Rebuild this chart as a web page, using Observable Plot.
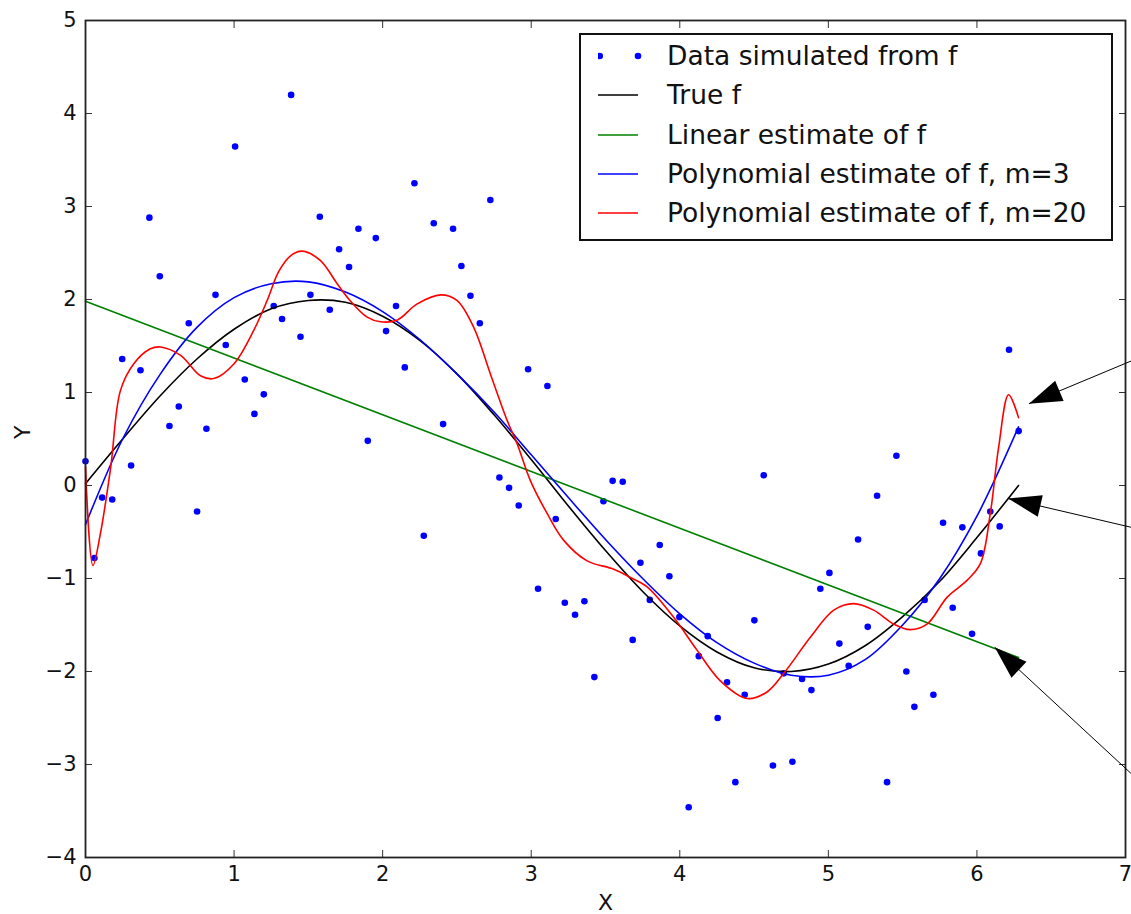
<!DOCTYPE html>
<html><head><meta charset="utf-8">
<script src="https://cdn.jsdelivr.net/npm/d3@7"></script>
<script src="https://cdn.jsdelivr.net/npm/@observablehq/plot@0.6"></script>
<style>
body{margin:0;background:#fff;font-family:"DejaVu Sans",sans-serif;}
#wrap{position:relative;width:1131px;height:914px;overflow:hidden;}
#legend{position:absolute;left:579px;top:33px;width:530px;height:204px;border:2px solid #111;background:#fff;box-sizing:content-box;}
#legend .row{position:absolute;left:0;height:40px;display:flex;align-items:center;}
#legend .row svg{position:absolute;left:17px;top:0;}
#legend .row span{position:absolute;left:86px;font-size:26.5px;line-height:40px;white-space:nowrap;color:#111;top:0;}
</style></head><body><div id="wrap"></div>
<script>
// ---- data ----
const dataX = [0,0.06,0.112,0.18,0.247,0.307,0.37,0.43,0.50,0.565,0.628,0.695,0.751,0.814,0.875,0.944,1.007,1.072,1.137,1.20,1.267,1.323,1.384,1.447,1.514,1.577,1.644,1.707,1.774,1.837,1.90,1.954,2.023,2.09,2.149,2.214,2.277,2.344,2.407,2.474,2.53,2.591,2.654,2.725,2.786,2.851,2.916,2.979,3.046,3.109,3.165,3.226,3.295,3.358,3.425,3.486,3.548,3.616,3.683,3.735,3.798,3.865,3.93,3.997,4.06,4.128,4.188,4.255,4.318,4.374,4.437,4.502,4.565,4.627,4.70,4.758,4.823,4.886,4.946,5.007,5.074,5.137,5.20,5.265,5.328,5.395,5.458,5.525,5.579,5.648,5.707,5.772,5.837,5.902,5.967,6.027,6.09,6.153,6.216,6.281];
const dataY = [0.26,-0.78,-0.13,-0.15,1.36,0.215,1.24,2.88,2.25,0.64,0.85,1.745,-0.28,0.61,2.05,1.51,3.645,1.14,0.77,0.98,1.93,1.79,4.20,1.60,2.05,2.89,1.89,2.54,2.35,2.76,0.48,2.66,1.66,1.93,1.27,3.25,-0.54,2.82,0.66,2.76,2.36,2.04,1.745,3.07,0.086,-0.025,-0.215,1.25,-1.11,1.07,-0.36,-1.26,-1.39,-1.244,-2.06,-0.17,0.05,0.04,-1.66,-0.83,-1.23,-0.64,-0.975,-1.415,-3.46,-1.835,-1.62,-2.50,-2.115,-3.19,-2.25,-1.45,0.11,-3.01,-2.02,-2.97,-2.08,-2.20,-1.11,-0.94,-1.70,-1.94,-0.58,-1.52,-0.11,-3.19,0.32,-2.00,-2.38,-1.23,-2.25,-0.40,-1.315,-0.45,-1.595,-0.73,-0.28,-0.44,1.46,0.585];

const curveX = [0,0.25,0.5,0.75,1.0,1.25,1.5,1.75,2.0,2.25,2.5,2.75,3.0,3.25,3.5,3.75,4.0,4.25,4.5,4.75,5.0,5.25,5.5,5.75,6.0,6.28];
const trueY  = [0.02,0.5,0.96,1.36,1.68,1.9,1.99,1.97,1.82,1.56,1.2,0.76,0.28,-0.22,-0.7,-1.14,-1.51,-1.79,-1.96,-2.0,-1.92,-1.72,-1.41,-1.03,-0.56,0.0];
const poly3Y = [-0.42,0.5,1.19,1.7,2.02,2.17,2.19,2.08,1.87,1.57,1.2,0.79,0.33,-0.13,-0.58,-1.0,-1.38,-1.69,-1.91,-2.04,-2.04,-1.87,-1.5,-1.0,-0.33,0.63];

const linearX = [0,6.28];
const linearY = [1.98,-1.85];

const poly20X = [0,0.05,0.1,0.17,0.235,0.325,0.437,0.505,0.64,0.774,0.863,1.0,1.133,1.223,1.3,1.38,1.458,1.58,1.694,1.78,1.896,1.985,2.1,2.23,2.39,2.5,2.613,2.725,2.838,2.905,2.995,3.107,3.219,3.376,3.556,3.668,3.78,3.96,4.116,4.273,4.453,4.587,4.7,4.88,5.036,5.17,5.305,5.44,5.55,5.664,5.8,5.933,6.023,6.09,6.146,6.213,6.28];
const poly20Y = [0.2,-0.86,-0.52,0.2,1.02,1.31,1.47,1.49,1.40,1.18,1.15,1.31,1.67,1.99,2.3,2.47,2.52,2.42,2.17,1.99,1.81,1.76,1.78,1.95,2.05,1.99,1.70,1.2,0.70,0.45,0.05,-0.3,-0.59,-0.81,-0.9,-0.99,-1.09,-1.42,-1.77,-2.1,-2.29,-2.22,-2.02,-1.63,-1.34,-1.27,-1.34,-1.49,-1.55,-1.49,-1.2,-1.02,-0.84,-0.30,0.41,0.975,0.73];

const arrowTipX  = [6.35, 6.21, 6.12];
const arrowTipY  = [0.88, -0.14, -1.74];
const arrowTailX = [7.04, 7.04, 7.04];
const arrowTailY = [1.34, -0.45, -3.1];

const xTicks = [0,1,2,3,4,5,6,7];
const yTicks = [-4,-3,-2,-1,0,1,2,3,4,5];

const legendLabels = ["Data simulated from f","True f","Linear estimate of f","Polynomial estimate of f, m=3","Polynomial estimate of f, m=20"];
const legendColors = ["#0000ff","#000000","#008000","#0000ff","#ff0000"];
const legendKinds  = ["dots","line","line","line","line"];

// ---- tables ----
const points = dataX.map((x,i)=>({x, y:dataY[i]}));
const trueRows = curveX.map((x,i)=>({x, y:trueY[i]}));
const poly3Rows = curveX.map((x,i)=>({x, y:poly3Y[i]}));
const linRows = linearX.map((x,i)=>({x, y:linearY[i]}));
const poly20Rows = poly20X.map((x,i)=>({x, y:poly20Y[i]}));
const arrowRows = arrowTipX.map((x,i)=>({x1:arrowTailX[i], y1:arrowTailY[i], x2:x, y2:arrowTipY[i]}));

const intFmt = d => (d < 0 ? "\u2212" + (-d) : String(d));

function triangleMarker(color, context) {
  const doc = (context && context.document) || document;
  const ns = "http://www.w3.org/2000/svg";
  const m = doc.createElementNS(ns, "marker");
  m.setAttribute("viewBox", "-36 -14 38 28");
  m.setAttribute("markerWidth", "38");
  m.setAttribute("markerHeight", "28");
  m.setAttribute("markerUnits", "userSpaceOnUse");
  m.setAttribute("orient", "auto");
  m.setAttribute("refX", "0");
  m.setAttribute("refY", "0");
  m.setAttribute("overflow", "visible");
  const p = doc.createElementNS(ns, "path");
  p.setAttribute("d", "M0,0L-33,-11L-33,11Z");
  p.setAttribute("fill", color === "currentColor" ? "#000" : color);
  p.setAttribute("stroke", "none");
  m.appendChild(p);
  return m;
}

function build(marker) {
  const tickStyle = {stroke:"#333", strokeWidth:1, tickFormat:()=>"", label:null};
  return Plot.plot({
    width:1131, height:914,
    marginLeft:85, marginRight:6, marginTop:20, marginBottom:57,
    x:{domain:[0,7]},
    y:{domain:[-4,5]},
    style:{fontFamily:"'DejaVu Sans', sans-serif", fontSize:"21px", color:"#111", background:"#fff", overflow:"visible"},
    marks:[
      Plot.axisX(xTicks,{anchor:"bottom", tickSize:0, tickPadding:9, label:null, fontSize:21, tickFormat:intFmt}),
      Plot.axisY(yTicks,{anchor:"left", tickSize:0, tickPadding:9, label:null, fontSize:21, tickFormat:intFmt}),
      Plot.axisX(xTicks,{anchor:"bottom", tickSize:7, dy:-7, ...tickStyle}),
      Plot.axisX(xTicks,{anchor:"top", tickSize:7, dy:7, ...tickStyle}),
      Plot.axisY(yTicks,{anchor:"left", tickSize:7, dx:7, ...tickStyle}),
      Plot.axisY(yTicks,{anchor:"right", tickSize:7, dx:-7, ...tickStyle}),
      Plot.text(["X"],{text:d=>d, frameAnchor:"bottom", dy:45, lineAnchor:"middle", fontSize:22, fill:"#111"}),
      Plot.text(["Y"],{text:d=>d, frameAnchor:"left", dx:-63, rotate:-90, lineAnchor:"middle", fontSize:22, fill:"#111"}),
      Plot.dot(points,{x:"x", y:"y", r:3.3, fill:"#0000ff"}),
      Plot.line(trueRows,{x:"x", y:"y", stroke:"#000", strokeWidth:1.6, curve:"catmull-rom"}),
      Plot.line(linRows,{x:"x", y:"y", stroke:"#008000", strokeWidth:1.6}),
      Plot.line(poly3Rows,{x:"x", y:"y", stroke:"#0000ff", strokeWidth:1.6, curve:"catmull-rom"}),
      Plot.line(poly20Rows,{x:"x", y:"y", stroke:"#ff0000", strokeWidth:1.6, curve:"catmull-rom"}),
      Plot.frame({stroke:"#222", strokeWidth:1.8}),
      Plot.link(arrowRows,{x1:"x1", y1:"y1", x2:"x2", y2:"y2", stroke:"#000", strokeWidth:1, markerEnd:marker})
    ]
  });
}

let chart;
try { chart = build(triangleMarker); } catch (e) { chart = build("arrow"); }
const wrap = document.getElementById("wrap");
wrap.appendChild(chart);

// ---- legend ----
const legend = document.createElement("div");
legend.id = "legend";
const rowCenters = legendLabels.map((_,i)=>21 + i*39.3);
legendLabels.forEach((label,i)=>{
  const row = document.createElement("div");
  row.className = "row";
  row.style.top = (rowCenters[i]-20)+"px";
  row.style.width = "530px";
  const ns = "http://www.w3.org/2000/svg";
  const s = document.createElementNS(ns,"svg");
  s.setAttribute("width","44"); s.setAttribute("height","40");
  if (legendKinds[i]==="dots") {
    [1.7,40].forEach(cx=>{
      const c = document.createElementNS(ns,"circle");
      c.setAttribute("cx",cx); c.setAttribute("cy",20); c.setAttribute("r",3.3);
      c.setAttribute("fill",legendColors[i]);
      s.appendChild(c);
    });
  } else {
    const l = document.createElementNS(ns,"line");
    l.setAttribute("x1",0); l.setAttribute("x2",40); l.setAttribute("y1",20); l.setAttribute("y2",20);
    l.setAttribute("stroke",legendColors[i]); l.setAttribute("stroke-width",1.6);
    s.appendChild(l);
  }
  row.appendChild(s);
  const t = document.createElement("span");
  t.textContent = label;
  row.appendChild(t);
  legend.appendChild(row);
});
wrap.appendChild(legend);
</script>
</body></html>
